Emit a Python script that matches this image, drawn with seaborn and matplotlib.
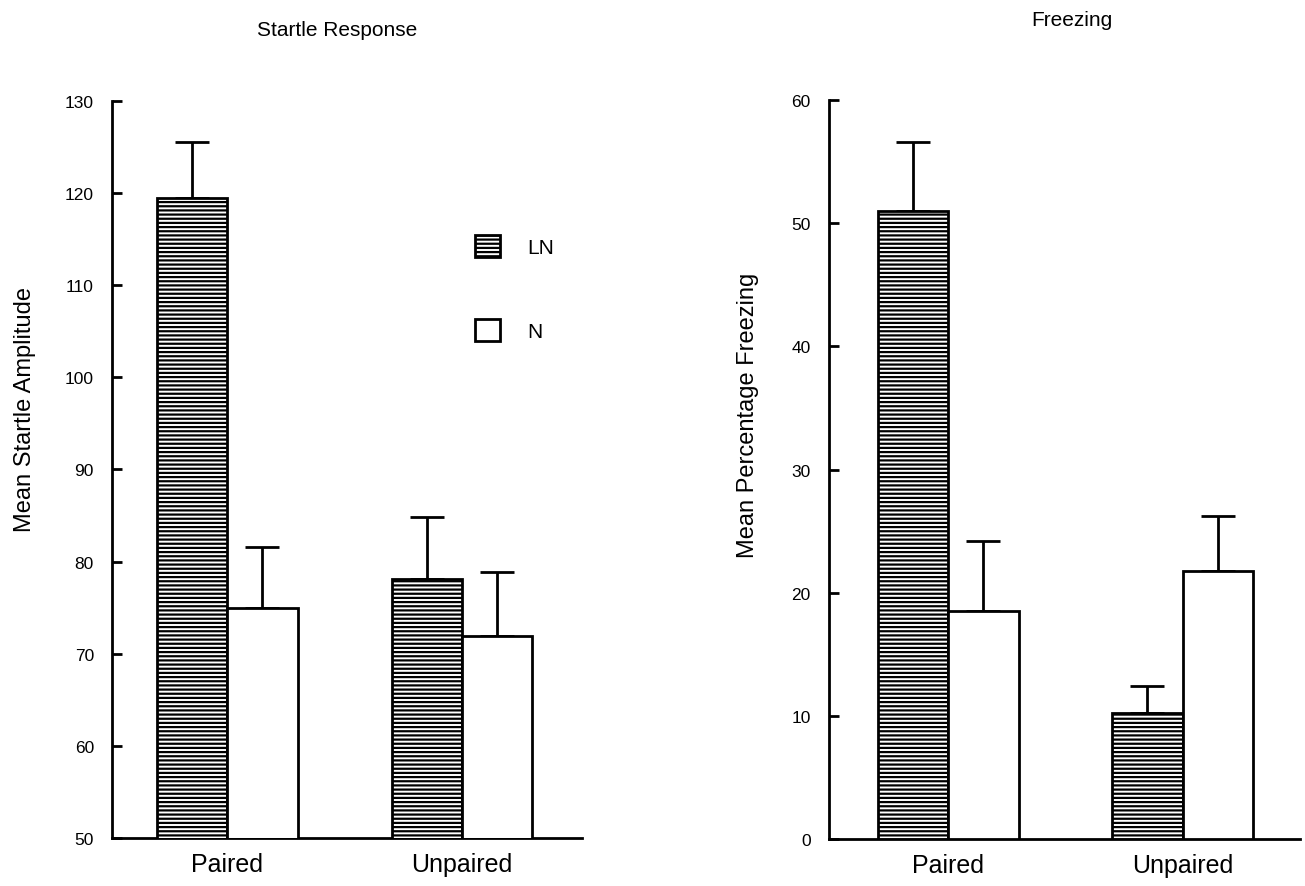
"""
Startle response and freezing, LN vs N, paired vs unpaired.
Two bar panels with upward-only SEM bars.
"""
import matplotlib
matplotlib.use("Agg")
import matplotlib.pyplot as plt
from matplotlib.patches import Patch
import pandas as pd
import seaborn as sns

GROUPS = ["Paired", "Unpaired"]
CONDITIONS = ["LN", "N"]

# Startle (LN paired, LN unpaired), (N paired, N unpaired)
STARTLE_LN = [119.5, 78.1]
STARTLE_N = [75.0, 71.9]
STARTLE_LN_SEM = [6.0, 6.7]
STARTLE_N_SEM = [6.6, 7.0]

FREEZE_LN = [51.0, 10.2]
FREEZE_N = [18.5, 21.8]
FREEZE_LN_SEM = [5.6, 2.2]
FREEZE_N_SEM = [5.7, 4.4]

STARTLE_TICKS = [50, 60, 70, 80, 90, 100, 110, 120, 130]
FREEZE_TICKS = [0, 10, 20, 30, 40, 50, 60]

HATCH = "----"


def make_df(ln, n):
    rows = []
    for g, v in zip(GROUPS, ln):
        rows.append({"group": g, "cond": "LN", "value": v})
    for g, v in zip(GROUPS, n):
        rows.append({"group": g, "cond": "N", "value": v})
    return pd.DataFrame(rows)


def draw_panel(ax, df, sems, ylim, yticks, xlim):
    sns.barplot(
        data=df, x="group", y="value", hue="cond",
        order=GROUPS, hue_order=CONDITIONS,
        palette={"LN": "white", "N": "white"},
        edgecolor="black", linewidth=2, width=0.6,
        errorbar=None, legend=False, ax=ax, zorder=3,
    )
    for bar in ax.containers[0]:
        bar.set_hatch(HATCH)
    for cont, sem in zip(ax.containers, sems):
        for bar, s in zip(cont, sem):
            x = bar.get_x() + bar.get_width() / 2
            y = bar.get_y() + bar.get_height()
            ax.errorbar(x, y, yerr=[[0], [s]], fmt="none", ecolor="black",
                        elinewidth=2, capsize=12.5, capthick=2, zorder=2)
    ax.set_ylim(*ylim)
    ax.set_xlim(*xlim)
    ax.set_yticks(yticks)
    ax.set_xlabel("")
    ax.set_ylabel("")
    ax.tick_params(axis="y", left=True, direction="in", length=7, width=2,
                   color="black", labelcolor="black", labelsize=12.5, pad=13)
    ax.tick_params(axis="x", bottom=False, length=0, labelcolor="black",
                   labelsize=18, pad=10)
    for side in ["top", "right"]:
        ax.spines[side].set_visible(False)
    for side in ["left", "bottom"]:
        ax.spines[side].set_linewidth(2)
        ax.spines[side].set_color("black")


def main():
    sns.set_theme(style="white")
    plt.rcParams["font.family"] = ["Liberation Sans", "DejaVu Sans"]
    plt.rcParams["hatch.linewidth"] = 1.6
    plt.rcParams["hatch.color"] = "black"
    plt.rcParams["text.color"] = "black"

    fig = plt.figure(figsize=(13.05, 8.87), dpi=100)
    ax1 = fig.add_axes([0.0858, 0.0541, 0.360, 0.831])
    ax2 = fig.add_axes([0.635, 0.053, 0.361, 0.833])

    draw_panel(ax1, make_df(STARTLE_LN, STARTLE_N),
               [STARTLE_LN_SEM, STARTLE_N_SEM], (50, 130), STARTLE_TICKS,
               (-0.49, 1.51))
    draw_panel(ax2, make_df(FREEZE_LN, FREEZE_N),
               [FREEZE_LN_SEM, FREEZE_N_SEM], (0, 60), FREEZE_TICKS,
               (-0.51, 1.50))

    fig.text(337 / 1305, 1 - 30 / 887, "Startle Response", fontsize=15,
             ha="center", va="center")
    fig.text(1072 / 1305, 1 - 20 / 887, "Freezing", fontsize=15,
             ha="center", va="center")
    fig.text(25 / 1305, 1 - 410 / 887, "Mean Startle Amplitude", fontsize=17,
             rotation=90, ha="center", va="center")
    fig.text(748 / 1305, 1 - 415 / 887, "Mean Percentage Freezing",
             fontsize=17, rotation=90, ha="center", va="center")

    handles = [
        Patch(facecolor="white", edgecolor="black", linewidth=2, hatch=HATCH),
        Patch(facecolor="white", edgecolor="black", linewidth=2),
    ]
    fig.legend(handles, CONDITIONS, loc="center left",
               bbox_to_anchor=(456 / 1305, 1 - 289 / 887), frameon=False,
               fontsize=15, handlelength=1.2, handleheight=1.3,
               labelspacing=2.95, handletextpad=1.3)

    fig.savefig("out.png", dpi=100)


if __name__ == "__main__":
    main()
